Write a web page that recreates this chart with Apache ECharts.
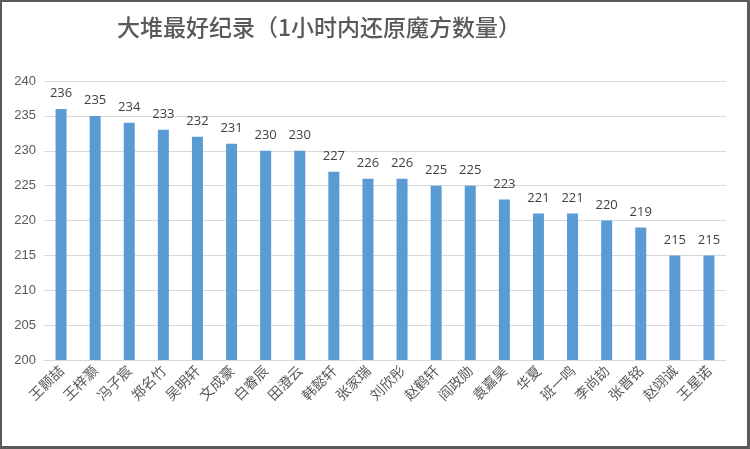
<!DOCTYPE html>
<html lang="zh">
<head>
    <meta charset="UTF-8">
    <title>大堆最好纪录</title>
    <script src="https://cdn.jsdelivr.net/npm/echarts@6/dist/echarts.min.js"></script>
    <style>
        html, body { margin: 0; padding: 0; background: #fff; }
        #main { width: 750px; height: 449px; box-sizing: border-box; border: 2px solid #5a5a5a; border-right-width: 3px; border-bottom-width: 3px; }
    </style>
</head>
<body>
<div id="main"></div>
<script>
    // 数据
    const names = ['王颢喆', '王梓灏', '冯子宸', '郑名竹', '吴明轩', '文成豪', '白睿辰', '田澄云', '韩懿轩', '张家瑞',
        '刘欣彤', '赵鹤轩', '阎政勋', '袁嘉昊', '华夏', '班一鸣', '李尚劼', '张晋铭', '赵翊诚', '王星诺'];
    const scores = [236, 235, 234, 233, 232, 231, 230, 230, 227, 226,
        226, 225, 225, 223, 221, 221, 220, 219, 215, 215];
    const yTicks = [200, 240, 5];   // min, max, interval

    let myChart = echarts.init(document.getElementById('main'));
    let option = {
        animation: false,
        title: {
            text: '大堆最好纪录（1小时内还原魔方数量）',
            left: 110,
            top: 9,
            textStyle: {
                fontFamily: 'Noto Sans CJK SC',
                fontSize: 23,
                fontWeight: 500,
                color: '#595959'
            }
        },
        grid: {
            left: 42,
            right: 21,
            top: 79,
            bottom: 86
        },
        xAxis: {
            type: 'category',
            data: names,
            axisLine: { show: true, lineStyle: { color: '#d9d9d9', width: 1 } },
            axisTick: { show: false },
            axisLabel: {
                rotate: 45,
                interval: 0,
                margin: 8,
                fontFamily: 'Noto Sans CJK SC',
                fontSize: 14,
                color: '#595959'
            }
        },
        yAxis: {
            type: 'value',
            min: yTicks[0],
            max: yTicks[1],
            interval: yTicks[2],
            axisLine: { show: false },
            axisTick: { show: false },
            splitLine: { lineStyle: { color: '#d9d9d9', width: 1 } },
            axisLabel: {
                margin: 8,
                fontFamily: 'Liberation Sans',
                fontSize: 13,
                color: '#595959'
            }
        },
        series: [
            {
                type: 'bar',
                data: scores,
                barWidth: 11,
                itemStyle: { color: '#5b9bd5' },
                label: {
                    show: true,
                    position: 'top',
                    distance: 9,
                    fontFamily: 'Open Sans',
                    fontSize: 13,
                    color: '#404040'
                }
            }
        ]
    };
    myChart.setOption(option);
</script>
</body>
</html>
